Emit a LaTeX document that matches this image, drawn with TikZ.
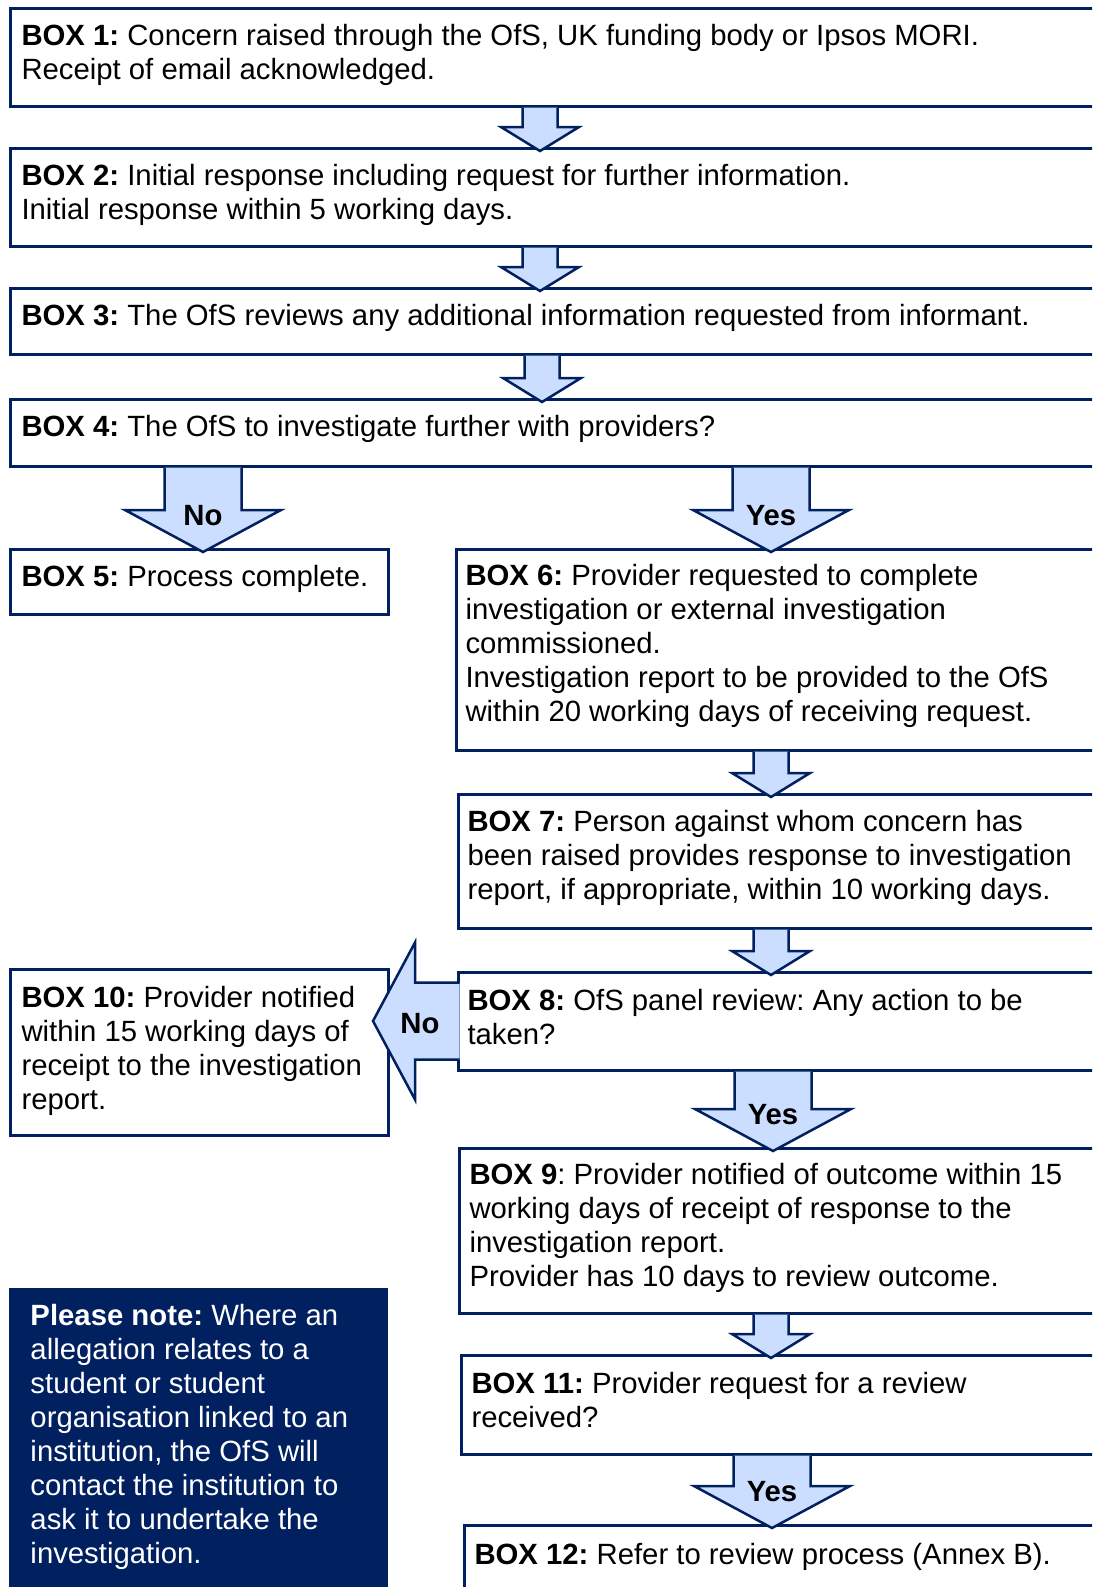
\documentclass[tikz,border=0pt]{standalone}
\usepackage{fontspec}
\setmainfont{Liberation Sans}
\usetikzlibrary{calc}
\definecolor{ofsnavy}{RGB}{0,32,96}
\definecolor{ofsblue}{RGB}{204,222,255}
\frenchspacing

% small block arrow between two boxes: from, to, x
\newcommand{\smalldown}[3]{%
\draw[blockarrow] let \p1=(#3,0 |- #1.south), \p2=(#3,0 |- #2.north) in
	(\x1-17.5pt,\y1-1.5pt) -- (\x1-17.5pt,\y2+21pt) -- (\x1-39pt,\y2+21pt) -- (\x1,\y2-3pt)
	-- (\x1+39pt,\y2+21pt) -- (\x1+17.5pt,\y2+21pt) -- (\x1+17.5pt,\y1-1.5pt);}
% big block arrow with a label: from, to, x, label
\newcommand{\bigdown}[4]{%
\draw[blockarrow] let \p1=(#3,0 |- #1.south), \p2=(#3,0 |- #2.north) in
	(\x1-38.5pt,\y1-1.5pt) -- (\x1-38.5pt,\y2+39pt) -- (\x1-78pt,\y2+39pt) -- (\x1,\y2-3pt)
	-- (\x1+78pt,\y2+39pt) -- (\x1+38.5pt,\y2+39pt) -- (\x1+38.5pt,\y1-1.5pt)
	(\x1,\y2+33pt) node[arrowlabel] {#4};}

\begin{document}
\begin{tikzpicture}[x=1pt,y=-1pt,line width=3pt,line join=miter]
\tikzstyle{box}=[draw=ofsnavy,rectangle,anchor=north west,inner sep=0pt,outer sep=0pt]
\tikzstyle{boxtext}=[anchor=north west,inner sep=0pt,align=left,font=\fontsize{29.3}{34}\selectfont]
\tikzstyle{blockarrow}=[draw=ofsnavy,fill=ofsblue,line width=2.5pt]
\tikzstyle{arrowlabel}=[inner sep=0pt,font=\fontsize{29.3}{34}\selectfont\bfseries]
\path[use as bounding box] (0,0) rectangle (1092,1587);
\clip (0,0) rectangle (1092,1587);

\node[box,minimum width=1100pt,minimum height=97.5pt]	(box1)	at (10,8.5)	{};
\node[box,minimum width=1100pt,minimum height=98pt]	(box2)	at (10,148)	{};
\node[box,minimum width=1100pt,minimum height=66pt]	(box3)	at (10,288)	{};
\node[box,minimum width=1100pt,minimum height=67pt]	(box4)	at (10,399)	{};
\node[box,minimum width=378pt,minimum height=65pt]	(box5)	at (10,549)	{};
\node[box,minimum width=660pt,minimum height=201pt]	(box6)	at (456,549)	{};
\node[box,minimum width=660pt,minimum height=134pt]	(box7)	at (458,794)	{};
\node[box,minimum width=660pt,minimum height=98pt]	(box8)	at (458,972)	{};
\node[box,minimum width=378pt,minimum height=166pt]	(box10)	at (10,969)	{};
\node[box,minimum width=660pt,minimum height=165pt]	(box9)	at (459,1148)	{};
\node[box,minimum width=660pt,minimum height=99pt]	(box11)	at (461,1355)	{};
\node[box,minimum width=660pt,minimum height=100pt]	(box12)	at (464,1525)	{};
\node[box,fill=ofsnavy,minimum width=376pt,minimum height=320pt]	(note)	at (10,1289)	{};

\node[boxtext] at ([shift={(10,14)}]box1.north west) {\textbf{BOX 1:} Concern raised through the OfS, UK funding body or Ipsos MORI.\\Receipt of email acknowledged.};
\node[boxtext] at ([shift={(10,14.5)}]box2.north west) {\textbf{BOX 2:} Initial response including request for further information.\\Initial response within 5 working days.};
\node[boxtext] at ([shift={(10,15)}]box3.north west) {\textbf{BOX 3:} The OfS reviews any additional information requested from informant.};
\node[boxtext] at ([shift={(10,15)}]box4.north west) {\textbf{BOX 4:} The OfS to investigate further with providers?};
\node[boxtext] at ([shift={(10,15)}]box5.north west) {\textbf{BOX 5:} Process complete.};
\node[boxtext] at ([shift={(8,13.5)}]box6.north west) {\textbf{BOX 6:} Provider requested to complete\\investigation or external investigation\\commissioned.\\Investigation report to be provided to the OfS\\within 20 working days of receiving request.};
\node[boxtext] at ([shift={(8,15)}]box7.north west) {\textbf{BOX 7:} Person against whom concern has\\been raised provides response to investigation\\report, if appropriate, within 10 working days.};
\node[boxtext] at ([shift={(8,16)}]box8.north west) {\textbf{BOX 8:} OfS panel review: Any action to be\\taken?};
\node[boxtext] at ([shift={(10,16)}]box10.north west) {\textbf{BOX 10:} Provider notified\\within 15 working days of\\receipt to the investigation\\report.};
\node[boxtext] at ([shift={(9,13.5)}]box9.north west) {\textbf{BOX 9}: Provider notified of outcome within 15\\working days of receipt of response to the\\investigation report.\\Provider has 10 days to review outcome.};
\node[boxtext] at ([shift={(9,16)}]box11.north west) {\textbf{BOX 11:} Provider request for a review\\received?};
\node[boxtext] at ([shift={(9,17)}]box12.north west) {\textbf{BOX 12:} Refer to review process (Annex B).};
\node[boxtext,text=white] at ([shift={(19,14)}]note.north west) {\textbf{Please note:} Where an\\allegation relates to a\\student or student\\organisation linked to an\\institution, the OfS will\\contact the institution to\\ask it to undertake the\\investigation.};

\smalldown{box1}{box2}{540}
\smalldown{box2}{box3}{540}
\smalldown{box3}{box4}{542}
\bigdown{box4}{box5}{203}{No}
\bigdown{box4}{box6}{771}{Yes}
\smalldown{box6}{box7}{771}
\smalldown{box7}{box8}{771}
\bigdown{box8}{box9}{773}{Yes}
\smalldown{box9}{box11}{771}
\bigdown{box11}{box12}{772}{Yes}
\draw[blockarrow] let \p1=(box8.west), \p2=(box10.east |- box8.west) in
	(\x1+1.5pt,\y1+38.5pt) -- (\x2+27pt,\y1+38.5pt) -- (\x2+27pt,\y1+78.5pt) -- (\x2-15pt,\y1)
	-- (\x2+27pt,\y1-78.5pt) -- (\x2+27pt,\y1-38.5pt) -- (\x1+1.5pt,\y1-38.5pt)
	(\x2+32pt,\y1-3pt) node[arrowlabel] {No};
\end{tikzpicture}
\end{document}
